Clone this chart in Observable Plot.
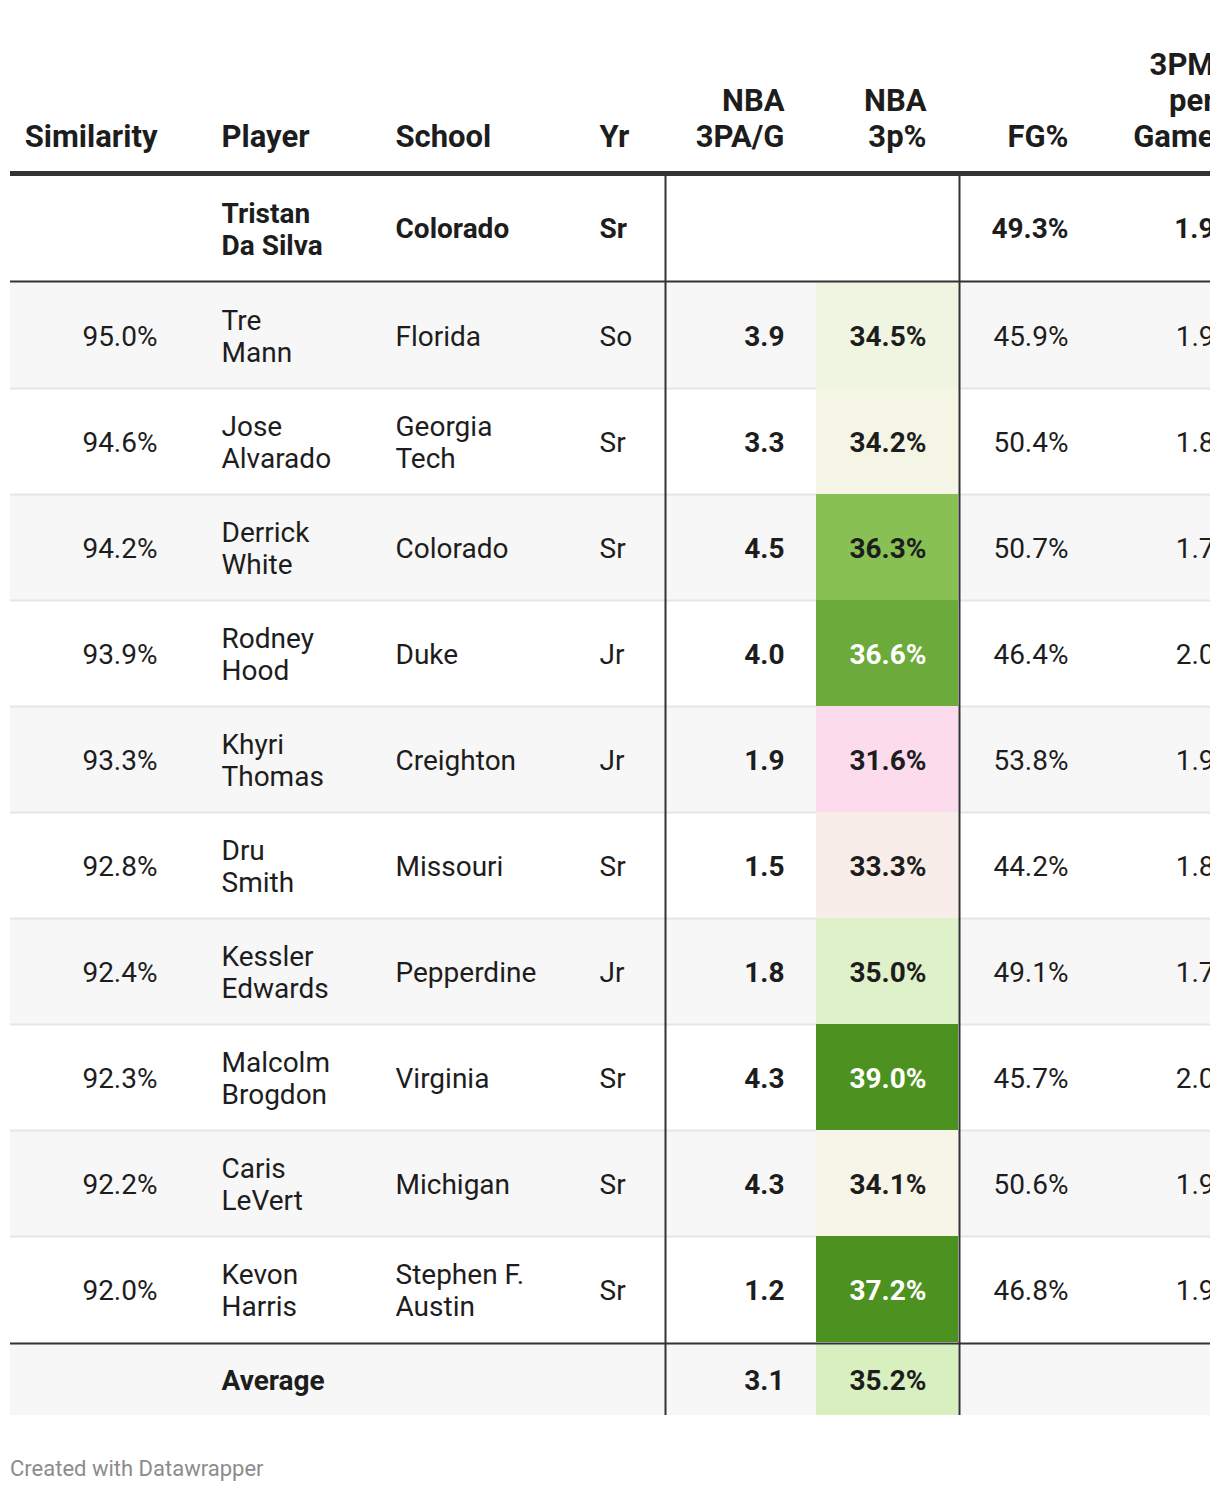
<!DOCTYPE html>
<html><head><meta charset="utf-8">
<script src="https://cdn.jsdelivr.net/npm/d3@7"></script>
<script src="https://cdn.jsdelivr.net/npm/@observablehq/plot@0.6"></script>
<style>
body{margin:0;background:#fff;font-family:Roboto,sans-serif}
#footer{font:22px Roboto,sans-serif;color:#8c8c8c;margin:26px 0 0 10px;line-height:26px}
</style></head><body>
<div id="chart"></div>
<div id="footer">Created with Datawrapper</div>
<script>
// ---- data ----
const headers = ["Similarity", "Player", "School", "Yr", "NBA\n3PA/G", "NBA\n3p%", "FG%", "3PM\nper\nGame"];
const target = {player: "Tristan Da Silva", school: "Colorado", yr: "Sr", fg: 49.3, pm: 1.9};
const players = ["Tre Mann", "Jose Alvarado", "Derrick White", "Rodney Hood", "Khyri Thomas", "Dru Smith", "Kessler Edwards", "Malcolm Brogdon", "Caris LeVert", "Kevon Harris"];
const similarity = [95.0, 94.6, 94.2, 93.9, 93.3, 92.8, 92.4, 92.3, 92.2, 92.0];
const schools = ["Florida", "Georgia Tech", "Colorado", "Duke", "Creighton", "Missouri", "Pepperdine", "Virginia", "Michigan", "Stephen F. Austin"];
const years = ["So", "Sr", "Sr", "Jr", "Jr", "Sr", "Jr", "Sr", "Sr", "Sr"];
const nba3pa = [3.9, 3.3, 4.5, 4.0, 1.9, 1.5, 1.8, 4.3, 4.3, 1.2];
const nba3p = [34.5, 34.2, 36.3, 36.6, 31.6, 33.3, 35.0, 39.0, 34.1, 37.2];
const fgPct = [45.9, 50.4, 50.7, 46.4, 53.8, 44.2, 49.1, 45.7, 50.6, 46.8];
const threePM = [1.9, 1.8, 1.7, 2.0, 1.9, 1.8, 1.7, 2.0, 1.9, 1.9];
const average = {label: "Average", pa: 3.1, p3: 35.2};

// ---- layout (styling, not data) ----
const W = 1220, H = 1430, LEFT = 10, RIGHT = 1210;
const HEAD_BASE = 146, HEAD_LINE = 173;
const TOP_ROW = [176, 281];
const ROW0 = 282, ROWH = 106;
const AVG = [1343, 1415];
const CELL = [816, 958];
const VLINES = [665, 959];
const COLX = [157, 221, 395, 599, 784, 926, 1068, 1214];
const COLA = ["end", "start", "start", "start", "end", "end", "end", "end"];
const FS = 28, HFS = 31;
const INK = "#1d1d1d";

const f1 = d3.format(".1f");
const pct = v => f1(v) + "%";
const wrapName = s => s.replace(" ", "\n");
const wrapSchool = s => s.length > 10 ? s.replace(/ (?=[^ ]*$)/, "\n") : s;

const rows = players.map((p, i) => ({
  i, player: p, sim: similarity[i], school: schools[i], yr: years[i],
  pa: nba3pa[i], p3: nba3p[i], fg: fgPct[i], pm: threePM[i],
  y1: ROW0 + i * ROWH, y2: ROW0 + (i + 1) * ROWH, cy: ROW0 + i * ROWH + ROWH / 2
}));
const headData = headers.map((h, j) => ({h, x: COLX[j], a: COLA[j]}));
const topY = (TOP_ROW[0] + TOP_ROW[1]) / 2;
const avgY = (AVG[0] + AVG[1]) / 2;
const avgRow = [{...average, y1: AVG[0], y2: AVG[1], cy: avgY}];

const colText = (data, j, text, opts = {}) =>
  Plot.text(data, {x: () => COLX[j], y: "cy", text, textAnchor: COLA[j], lineAnchor: "middle",
    fontSize: FS, lineHeight: 1.15, fill: INK, ...opts});
const headText = anchor =>
  Plot.text(headData.filter(d => d.a === anchor), {x: "x", y: () => HEAD_BASE, text: "h", textAnchor: anchor,
    lineAnchor: "bottom", fontSize: HFS, fontWeight: "bold", lineHeight: 1.16, fill: INK, clip: true});

const chart = Plot.plot({
  width: W, height: H,
  marginTop: 0, marginLeft: 0, marginBottom: 0, marginRight: W - RIGHT,
  x: {type: "identity", axis: null},
  y: {type: "identity", axis: null},
  color: {type: "linear", domain: [31.6, 33.3, 34.1, 34.5, 35.2, 36.3, 36.6, 37.2],
          range: ["#fcdcec", "#f8ede9", "#f6f5e7", "#eff5e0", "#d8efc0", "#89c053", "#6daa3c", "#4d9221"], clamp: true},
  style: {fontFamily: "Roboto, sans-serif", background: "white"},
  marks: [
    // row backgrounds
    Plot.rect(rows, {x1: LEFT, x2: RIGHT, y1: "y1", y2: "y2", fill: d => d.i % 2 === 0 ? "#f7f7f7" : "#ffffff"}),
    Plot.rect(avgRow, {x1: LEFT, x2: RIGHT, y1: "y1", y2: "y2", fill: "#f7f7f7"}),
    // separators
    Plot.ruleY(rows.slice(1), {y: "y1", x1: LEFT, x2: RIGHT, stroke: "#e6e6e6", strokeWidth: 2}),
    // heat cells
    Plot.rect(rows, {x1: CELL[0], x2: CELL[1], y1: "y1", y2: "y2", fill: "p3"}),
    Plot.rect(avgRow, {x1: CELL[0], x2: CELL[1], y1: d => d.y1 + 1, y2: "y2", fill: "p3"}),
    // structural lines
    Plot.ruleY([HEAD_LINE], {x1: LEFT, x2: RIGHT, stroke: "#333", strokeWidth: 5}),
    Plot.ruleY([TOP_ROW[1], AVG[0]], {x1: LEFT, x2: RIGHT, stroke: "#333", strokeWidth: 2}),
    Plot.ruleX(VLINES, {y1: HEAD_LINE + 2, y2: AVG[1], stroke: "#333", strokeWidth: 2}),
    // header
    headText("start"),
    headText("end"),
    // target row
    Plot.text([target], {x: () => COLX[1], y: () => topY, text: d => wrapName(d.player), textAnchor: "start", lineAnchor: "middle", fontSize: FS, lineHeight: 1.12, fontWeight: "bold", fill: INK}),
    Plot.text([target], {x: () => COLX[2], y: () => topY, text: "school", textAnchor: "start", fontSize: FS, fontWeight: "bold", fill: INK}),
    Plot.text([target], {x: () => COLX[3], y: () => topY, text: "yr", textAnchor: "start", fontSize: FS, fontWeight: "bold", fill: INK}),
    Plot.text([target], {x: () => COLX[6], y: () => topY, text: d => pct(d.fg), textAnchor: "end", fontSize: FS, fontWeight: "bold", fill: INK}),
    Plot.text([target], {x: () => COLX[7], y: () => topY, text: d => f1(d.pm), textAnchor: "end", fontSize: FS, fontWeight: "bold", fill: INK, clip: true}),
    // comparison rows
    colText(rows, 0, d => pct(d.sim)),
    colText(rows, 1, d => wrapName(d.player)),
    colText(rows, 2, d => wrapSchool(d.school)),
    colText(rows, 3, "yr"),
    colText(rows, 4, d => f1(d.pa), {fontWeight: "bold"}),
    colText(rows.filter(d => d.p3 < 36.5), 5, d => pct(d.p3), {fontWeight: "bold"}),
    colText(rows.filter(d => d.p3 >= 36.5), 5, d => pct(d.p3), {fontWeight: "bold", fill: "white"}),
    colText(rows, 6, d => pct(d.fg)),
    colText(rows, 7, d => f1(d.pm), {clip: true}),
    // average row
    colText(avgRow, 1, "label", {fontWeight: "bold"}),
    colText(avgRow, 4, d => f1(d.pa), {fontWeight: "bold"}),
    colText(avgRow, 5, d => pct(d.p3), {fontWeight: "bold"})
  ]
});
document.getElementById("chart").appendChild(chart);
</script></body></html>
